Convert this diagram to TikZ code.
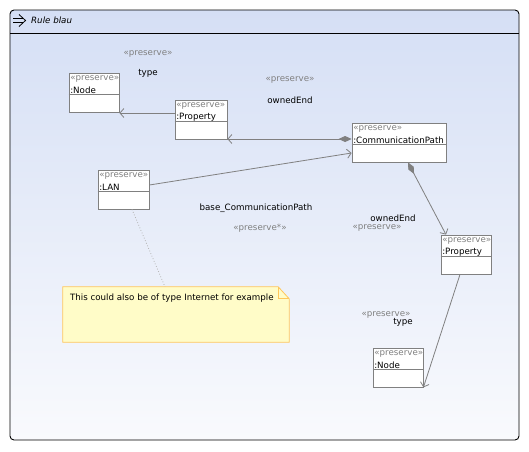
\documentclass[tikz,border=0pt]{standalone}
\usepackage{fontspec}
\setmainfont{DejaVu Sans}
\usetikzlibrary{arrows.meta}

\definecolor{frametop}{HTML}{D5DFF5}
\definecolor{framebot}{HTML}{F9FAFD}
\definecolor{linegray}{HTML}{808080}
\definecolor{notefill}{HTML}{FFFCC8}
\definecolor{noteline}{HTML}{FFC65A}

\begin{document}
\begin{tikzpicture}[x=1pt, y=-1pt,
    objbox/.style={draw=linegray, fill=white, minimum height=39, inner sep=0, line width=0.8},
    stereo/.style={text=linegray, font=\fontsize{8.7}{10}\selectfont, inner sep=0},
    lbl/.style={font=\fontsize{8.7}{10}\selectfont, inner sep=0},
    assoc/.style={draw=linegray, line width=0.8, -{Straight Barb[length=4pt,width=9pt]}},
    owner/.style={assoc, {Diamond[length=13pt,width=6pt,fill=linegray]}-{Straight Barb[length=4pt,width=9pt]}}]
      \useasboundingbox (0,0) rectangle (529,451);
      % frame with header
      \shade [top color=frametop, bottom color=framebot, rounded corners=4] (10,10) rectangle (519,440);
      \draw [line width=0.9, rounded corners=4] (10,10) rectangle (519,440);
      \draw [line width=0.8] (10,33) -- (519,33);
      \draw [line width=0.8] (13,18.5) -- (23,18.5) (13,22.5) -- (23,22.5);
      \draw [line width=0.8] (19,14.5) -- (25.5,20.5) -- (19,26.5);
      \node [lbl, anchor=west, font=\fontsize{8.7}{10}\selectfont\itshape] (title) at (31,20.5) {Rule blau};
      % objects
      \foreach \nm/\x/\y/\w/\txt in {node1/94/92.5/50/:Node, prop1/201/119.5/52/:Property,
        cp/399/142.5/94/:CommunicationPath, lan/123.5/189.5/51/:LAN,
        prop2/466/254.5/50/:Property, node2/398/367.5/50/:Node} {
        \node [objbox, minimum width=\w] (\nm) at (\x,\y) {};
        \draw [linegray, line width=0.8] ([yshift=-22]\nm.north west) -- ([yshift=-22]\nm.north east);
        \node [stereo, anchor=west] at ([xshift=1.5, yshift=-6.5]\nm.north west) {«preserve»};
        \node [lbl, anchor=west] at ([xshift=1.5, yshift=-17.5]\nm.north west) {\txt};
      }
      % note
      \node [minimum width=226, minimum height=55, inner sep=0] (note) at (176,314.5) {};
      \draw [fill=notefill, draw=noteline, line width=0.8] (note.north west) -- ([xshift=-11]note.north east)
      -- ([yshift=-12]note.north east) -- (note.south east) -- (note.south west) -- cycle;
      \draw [draw=noteline, line width=0.8] ([xshift=-11]note.north east) |- ([yshift=-12]note.north east);
      \node [lbl, anchor=west] (notetext) at ([xshift=7, yshift=-11]note.north west)
      {This could also be of type Internet for example};
      % connectors
      \draw [assoc] ([yshift=6.5]prop1.west) -- ([yshift=6.5]prop1.west -| node1.east);
      \draw [owner] ([yshift=3.5]cp.west) -- ([yshift=3.5]cp.west -| prop1.east);
      \draw [assoc] ([yshift=4.5]lan.east) -- ([yshift=-10.5]cp.west);
      \draw [owner] ([xshift=9]cp.south) -- ([xshift=-20]prop2.north);
      \draw [assoc] ([xshift=-6]prop2.south) -- (node2.south east);
      \draw [linegray!60, dotted, line width=0.8] ([xshift=8.5]lan.south) -- ([xshift=-11]note.north);
      % labels
      \node [stereo] (st1) at (148,54) {«preserve»};
      \node [lbl] (type1) at (148,73) {type};
      \node [stereo] (st2) at (290,80) {«preserve»};
      \node [lbl] (owned1) at (290,100) {ownedEnd};
      \node [lbl] (base) at (256,208) {base\_CommunicationPath};
      \node [stereo] (st3) at (260,228) {«preserve*»};
      \node [lbl] (owned2) at (393,218) {ownedEnd};
      \node [stereo] (st4) at (377,228) {«preserve»};
      \node [stereo] (st5) at (386,315) {«preserve»};
      \node [lbl] (type2) at (403,322) {type};

    \end{tikzpicture}
\end{document}
